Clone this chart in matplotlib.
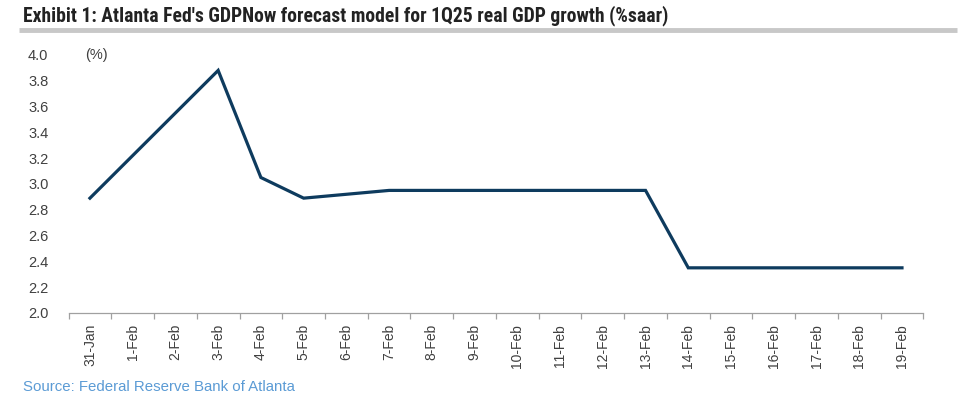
import matplotlib
matplotlib.use("Agg")
import matplotlib.pyplot as plt
from matplotlib import font_manager as fm
import numpy as np

dates = ["31-Jan", "1-Feb", "2-Feb", "3-Feb", "4-Feb", "5-Feb", "6-Feb", "7-Feb",
         "8-Feb", "9-Feb", "10-Feb", "11-Feb", "12-Feb", "13-Feb", "14-Feb",
         "15-Feb", "16-Feb", "17-Feb", "18-Feb", "19-Feb"]
gdpnow = [2.89, 3.22, 3.55, 3.88, 3.05, 2.89, 2.92, 2.95, 2.95, 2.95, 2.95,
          2.95, 2.95, 2.95, 2.35, 2.35, 2.35, 2.35, 2.35, 2.35]
yticks = [2.0, 2.2, 2.4, 2.6, 2.8, 3.0, 3.2, 3.4, 3.6, 3.8, 4.0]

TXT = "#404040"
plt.rcParams['font.family'] = ['Liberation Sans', 'DejaVu Sans']


def first_font(names):
    for n in names:
        try:
            fm.findfont(fm.FontProperties(family=n, weight="bold"), fallback_to_default=False)
            return n
        except Exception:
            pass
    return None


narrow = first_font(["Liberation Sans Narrow", "Roboto Condensed", "DejaVu Sans Condensed"])

fig = plt.figure(figsize=(9.74, 4.01), dpi=100)
ax = fig.add_axes([0.0704, 0.2195, 0.8776, 0.6435])

x = np.arange(len(dates))
ax.plot(x, gdpnow, color="#0e3b5e", linewidth=2.3, solid_joinstyle="miter")

ax.set_xlim(-0.5, len(dates) - 0.5)
ax.set_ylim(2.0, 4.0)
ax.set_yticks(yticks)
ax.set_yticklabels([f"{v:.1f}" for v in yticks], fontsize=10.5, color=TXT)
ax.set_xticks(x)
ax.set_xticklabels(dates, rotation=90, fontsize=10, color=TXT)
ax.set_xticks(np.arange(-0.5, len(dates)), minor=True)
ax.tick_params(axis="x", which="major", length=0, pad=8)
ax.tick_params(axis="x", which="minor", length=4, color="#a0a0a0", width=0.9)
ax.tick_params(axis="y", length=0, pad=14.5)

for s in ["top", "right", "left"]:
    ax.spines[s].set_visible(False)
ax.spines["bottom"].set_color("#a0a0a0")
ax.spines["bottom"].set_linewidth(0.9)

ax.text(0.019, 1.0, "(%)", transform=ax.transAxes, fontsize=10.5, color=TXT,
        va="center", ha="left")

title = "Exhibit 1: Atlanta Fed's GDPNow forecast model for 1Q25 real GDP growth (%saar)"
fam = [narrow, 'DejaVu Sans'] if narrow else ['Liberation Sans', 'DejaVu Sans']
t = fig.text(0.0236, 0.962, title, fontsize=11, fontweight="bold", color="#222222",
             va="center", ha="left", family=fam)
# fit the title to the reference width (~644 px)
fig.canvas.draw()
w = t.get_window_extent().width
t.set_fontsize(11 * 644.0 / w)

fig.add_artist(plt.Line2D([0.0195, 0.9825], [0.925, 0.925], transform=fig.transFigure,
                          color="#c8c8c8", linewidth=3.5, solid_capstyle="butt"))
fig.text(0.0236, 0.035, "Source: Federal Reserve Bank of Atlanta", fontsize=10.8,
         color="#5b9bd5", va="center", ha="left")

fig.savefig("out.png", dpi=100)
